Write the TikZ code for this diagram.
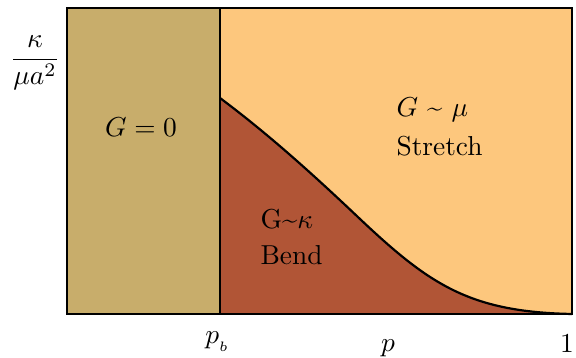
\documentclass[tikz,border=0pt]{standalone}
\usepackage{amsmath}
\usetikzlibrary{positioning}
\definecolor{rigidtan}{HTML}{C8AD6B}
\definecolor{stretchbg}{HTML}{FDC77D}
\definecolor{bendred}{HTML}{B15536}
\tikzset{
  border/.style={draw=black, line width=0.8pt},
  regionlbl/.style={align=left, anchor=west, inner sep=0pt},
  axislbl/.style={anchor=base, inner sep=0pt}}

\begin{document}
\begin{tikzpicture}[x=0.365pt, y=-0.365pt]
    \useasboundingbox (0,0) rectangle (576,358);
    % regions
    \fill[stretchbg] (220,8) rectangle (572,314);
    \fill[rigidtan] (67,8) rectangle (220,314);
    \fill[bendred] (220,314) -- (220,98)
      .. controls (260,128) and (300,162) .. (360,219)
      .. controls (430,285) and (470,312) .. (572,314) -- cycle;
    \draw[line width=0.8pt] (220,98)
      .. controls (260,128) and (300,162) .. (360,219)
      .. controls (430,285) and (470,312) .. (572,314);
    \draw[border] (220,8) -- (220,314);
    \draw[border] (67,8) rectangle (572,314);
    % texts
    \node (rigid) at (141,127) {$G=0$};
    \node[regionlbl] (stretch) at (396,127) {$G$ \textasciitilde{} $\mu$\\[2pt]Stretch};
    \node[regionlbl] (bend) at (260,237) {G\textasciitilde$\kappa$\\[1.5pt]Bend};
    \node (kappa) at (35,63) {$\dfrac{\kappa}{\mu a^{2}}$};
    \node[axislbl] (pb) at (218,344) {$p_{_b}$};
    \node[axislbl] (pp) at (388,352) {$p$};
    \node[axislbl] (one) at (567,353) {$1$};
\end{tikzpicture}
\end{document}
